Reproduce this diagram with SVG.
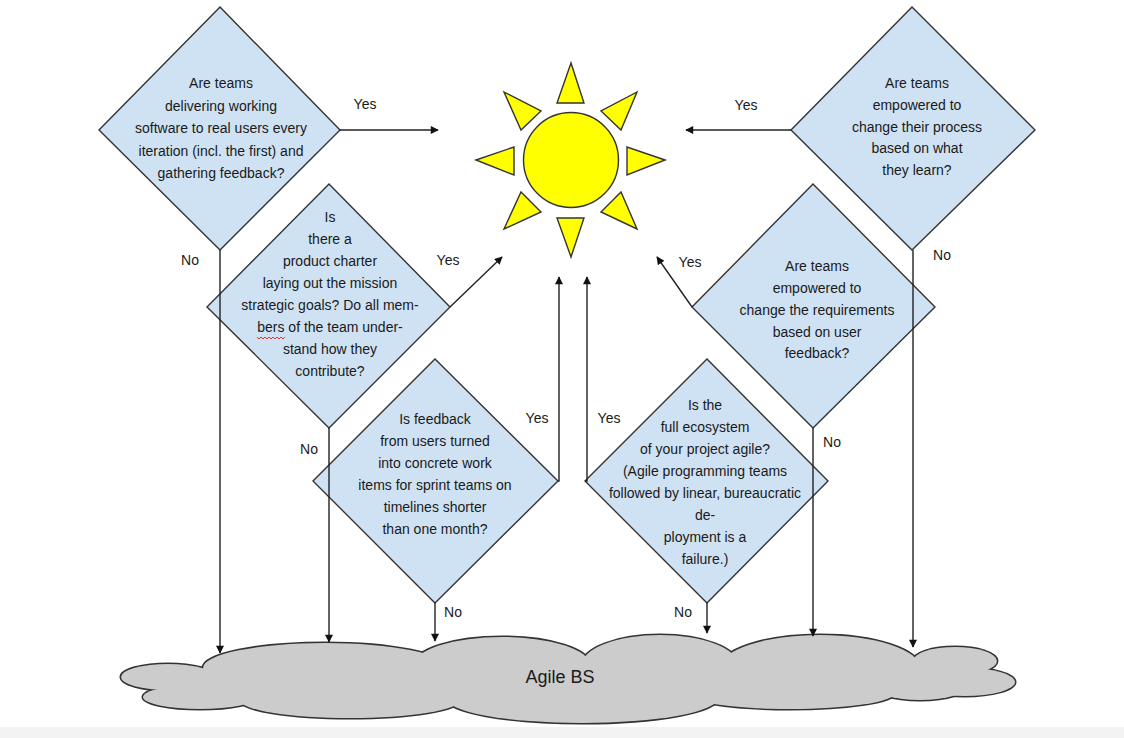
<svg xmlns="http://www.w3.org/2000/svg" width="1124" height="738" viewBox="0 0 1124 738">
<style>
.dia{fill:#cfe2f3;stroke:#333;stroke-width:1.4}
.q{font-family:"Liberation Sans",Arial,sans-serif;font-size:14px;fill:#1a1a1a;text-anchor:middle}
.lbl{font-family:"Liberation Sans",Arial,sans-serif;font-size:14px;fill:#1a1a1a;text-anchor:middle}
.ray{fill:#ffff00;stroke:#333;stroke-width:1.4;stroke-linejoin:miter}
.con{fill:none;stroke:#222;stroke-width:1.4}
.cl-o{fill:#333;stroke:#333;stroke-width:3}
.cl-i{fill:#cccccc;stroke:none}
</style>
<defs>
<marker id="ah" viewBox="0 0 10 10" refX="9" refY="5" markerWidth="9" markerHeight="8" markerUnits="userSpaceOnUse" orient="auto">
<path d="M0,0 L10,5 L0,10 z" fill="#111"/>
</marker>
<g id="cloudshapes">
<ellipse cx="168" cy="677" rx="47" ry="13"/>
<ellipse cx="200" cy="697" rx="57" ry="12"/>
<ellipse cx="325" cy="668" rx="122" ry="25"/>
<ellipse cx="350" cy="700" rx="110" ry="18"/>
<ellipse cx="502" cy="665" rx="88" ry="28"/>
<ellipse cx="582" cy="698" rx="136" ry="25"/>
<ellipse cx="660" cy="665" rx="78" ry="30"/>
<ellipse cx="820" cy="668" rx="100" ry="33"/>
<ellipse cx="790" cy="693" rx="105" ry="16"/>
<ellipse cx="920" cy="684" rx="50" ry="16"/>
<ellipse cx="955" cy="661" rx="42" ry="14"/>
<ellipse cx="965" cy="682" rx="50" ry="14"/>
<ellipse cx="240" cy="684" rx="40" ry="10"/>
<ellipse cx="440" cy="687" rx="40" ry="10"/>
<ellipse cx="722" cy="683" rx="30" ry="12"/>
</g>
</defs>
<rect x="0" y="0" width="1124" height="738" fill="#ffffff"/>
<rect x="0" y="727" width="1124" height="11" fill="#f3f3f3"/>

<g id="cloud">
<use href="#cloudshapes" class="cl-o"/>
<use href="#cloudshapes" class="cl-i"/>
<text x="560" y="683" font-family="Liberation Sans, Arial, sans-serif" font-size="18" fill="#1a1a1a" text-anchor="middle">Agile BS</text>
</g>

<g id="sun">
<circle cx="571" cy="160" r="47.5" fill="#ffff00" stroke="#333" stroke-width="1.4"/>
<polygon class="ray" points="571,63 557,103 584,103"/>
<polygon class="ray" points="571,257 557,218 584,218"/>
<polygon class="ray" points="476,160 514,147 514,175"/>
<polygon class="ray" points="665,160 627,147 627,175"/>
<polygon class="ray" points="504,92 541,111 521,130"/>
<polygon class="ray" points="637,92 601,111 621,130"/>
<polygon class="ray" points="504,229 521,192 541,212"/>
<polygon class="ray" points="637,229 621,192 601,212"/>
</g>

<g id="d1">
<polygon class="dia" points="220,7 340,130 220,250 99,130"/>
<text class="q" x="221" y="88">Are teams</text>
<text class="q" x="221" y="110.5">delivering working</text>
<text class="q" x="221" y="133">software to real users every</text>
<text class="q" x="221" y="155.5">iteration (incl. the first) and</text>
<text class="q" x="221" y="178">gathering feedback?</text>
</g>

<g id="d6">
<polygon class="dia" points="912,7 1035,130 912,250 791,130"/>
<text class="q" x="917" y="88">Are teams</text>
<text class="q" x="917" y="110">empowered to</text>
<text class="q" x="917" y="132">change their process</text>
<text class="q" x="917" y="153">based on what</text>
<text class="q" x="917" y="175">they learn?</text>
</g>

<g id="d2">
<polygon class="dia" points="329,184 450,307 329,428 207,307"/>
<text class="q" x="330" y="222">Is</text>
<text class="q" x="330" y="244">there a</text>
<text class="q" x="330" y="266">product charter</text>
<text class="q" x="330" y="288">laying out the mission</text>
<text class="q" x="330" y="310">strategic goals? Do all mem-</text>
<text class="q" x="330" y="332">bers of the team under-</text>
<text class="q" x="330" y="354">stand how they</text>
<text class="q" x="330" y="376">contribute?</text>
<path d="M257,337 l2,2 l2,-2 l2,2 l2,-2 l2,2 l2,-2 l2,2 l2,-2 l2,2 l2,-2 l2,2 l2,-2 l2,2 l2,-2" fill="none" stroke="#e02020" stroke-width="0.9"/>
</g>

<g id="d5">
<polygon class="dia" points="813,184 935,307 813,428 692,307"/>
<text class="q" x="817" y="271">Are teams</text>
<text class="q" x="817" y="293">empowered to</text>
<text class="q" x="817" y="315">change the requirements</text>
<text class="q" x="817" y="337">based on user</text>
<text class="q" x="817" y="358">feedback?</text>
</g>

<g id="d3">
<polygon class="dia" points="435,359 558,481 435,603 313,481"/>
<text class="q" x="435" y="424">Is feedback</text>
<text class="q" x="435" y="446">from users turned</text>
<text class="q" x="435" y="468">into concrete work</text>
<text class="q" x="435" y="490">items for sprint teams on</text>
<text class="q" x="435" y="512">timelines shorter</text>
<text class="q" x="435" y="534">than one month?</text>
</g>

<g id="d4">
<polygon class="dia" points="707,359 828,481 707,603 585,481"/>
<text class="q" x="705" y="410">Is the</text>
<text class="q" x="705" y="432">full ecosystem</text>
<text class="q" x="705" y="454">of your project agile?</text>
<text class="q" x="705" y="476">(Agile programming teams</text>
<text class="q" x="705" y="498">followed by linear, bureaucratic</text>
<text class="q" x="705" y="520">de-</text>
<text class="q" x="705" y="542">ployment is a</text>
<text class="q" x="705" y="564">failure.)</text>
</g>

<g id="connectors">
<line class="con" x1="340" y1="130" x2="438" y2="130" marker-end="url(#ah)"/>
<line class="con" x1="450" y1="307" x2="502" y2="257" marker-end="url(#ah)"/>
<polyline class="con" points="558,481 559,481 559,277" marker-end="url(#ah)"/>
<polyline class="con" points="585,481 587,481 587,277" marker-end="url(#ah)"/>
<line class="con" x1="692" y1="307" x2="657" y2="257" marker-end="url(#ah)"/>
<line class="con" x1="791" y1="130" x2="686" y2="130" marker-end="url(#ah)"/>
<line class="con" x1="220" y1="250" x2="220" y2="653" marker-end="url(#ah)"/>
<line class="con" x1="329" y1="428" x2="329" y2="642" marker-end="url(#ah)"/>
<line class="con" x1="435" y1="603" x2="435" y2="641" marker-end="url(#ah)"/>
<line class="con" x1="707" y1="603" x2="707" y2="633" marker-end="url(#ah)"/>
<line class="con" x1="813" y1="428" x2="813" y2="636" marker-end="url(#ah)"/>
<line class="con" x1="913" y1="250" x2="913" y2="647" marker-end="url(#ah)"/>
</g>

<g id="labels">
<text class="lbl" x="365" y="109">Yes</text>
<text class="lbl" x="190" y="265">No</text>
<text class="lbl" x="448" y="265">Yes</text>
<text class="lbl" x="309" y="454">No</text>
<text class="lbl" x="537" y="423">Yes</text>
<text class="lbl" x="453" y="617">No</text>
<text class="lbl" x="609" y="423">Yes</text>
<text class="lbl" x="683" y="617">No</text>
<text class="lbl" x="690" y="267">Yes</text>
<text class="lbl" x="832" y="447">No</text>
<text class="lbl" x="746" y="110">Yes</text>
<text class="lbl" x="942" y="260">No</text>
</g>
</svg>
